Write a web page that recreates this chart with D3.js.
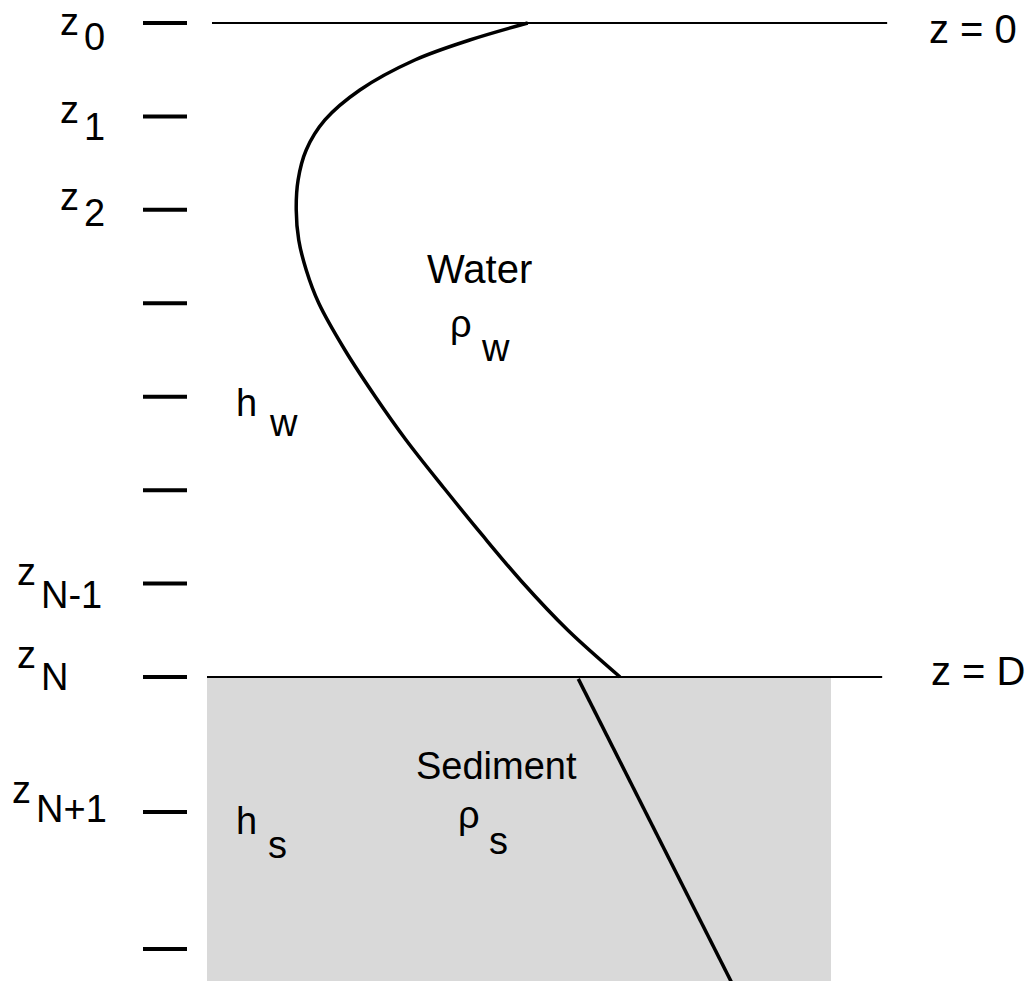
<!DOCTYPE html>
<html><head><meta charset="utf-8">
<script src="https://cdn.jsdelivr.net/npm/d3@7"></script>
<style>
body{margin:0;background:#fff}
text{font-family:"Liberation Sans",Arial,Helvetica,sans-serif;fill:#000}
</style>
</head><body>
<svg id="c" width="1036" height="981"></svg>
<script>
// ---- data ----
// grid levels (depth in water-layer grid units; z = D at 7)
const levelDepths = [0, 1, 2, 3, 4, 5, 6, 7, 8.445, 9.911];
const levelSubs   = ["0", "1", "2", "", "", "", "N-1", "N", "N+1", ""];
// water profile (normalised value vs depth)
const profileDepth = [0, 0.182, 0.396, 0.717, 1.038, 1.359, 1.680, 2.001, 2.322, 2.643, 2.997, 3.500, 3.992, 4.463, 4.988, 5.480, 5.983, 6.497, 7.0];
const profileValue = [0.514, 0.421, 0.333, 0.245, 0.189, 0.159, 0.146, 0.143, 0.147, 0.159, 0.179, 0.221, 0.269, 0.319, 0.381, 0.441, 0.505, 0.578, 0.662];
// sediment profile
const sedDepth = [7.02, 10.3];
const sedValue = [0.595, 0.843];
// interfaces
const surfaceDepth = 0, bottomDepth = 7, sedBottomDepth = 10.3;

// ---- scales ----
const x = d3.scaleLinear().domain([0, 1]).range([207, 831]);
const y = d3.scaleLinear().domain([0, 7]).range([23, 677]);
const svg = d3.select("#c");
svg.append("rect").attr("width", 1036).attr("height", 981).attr("fill", "#fff");

// sediment fill
svg.append("rect")
  .attr("x", x(0)).attr("y", y(bottomDepth))
  .attr("width", x(1) - x(0)).attr("height", y(sedBottomDepth) - y(bottomDepth))
  .attr("fill", "#d9d9d9");

// interface lines
svg.append("line").attr("x1", x(0.008)).attr("x2", x(1.09)).attr("y1", y(surfaceDepth)).attr("y2", y(surfaceDepth))
  .attr("stroke", "#000").attr("stroke-width", 2);
svg.append("line").attr("x1", x(0)).attr("x2", x(1.082)).attr("y1", y(bottomDepth)).attr("y2", y(bottomDepth))
  .attr("stroke", "#000").attr("stroke-width", 2);

// ticks
svg.selectAll("line.tick").data(levelDepths).join("line").attr("class", "tick")
  .attr("x1", 143).attr("x2", 187)
  .attr("y1", d => y(d)).attr("y2", d => y(d))
  .attr("stroke", "#000").attr("stroke-width", 4);

// water profile
const line = d3.line().x(d => x(d[1])).y(d => y(d[0])).curve(d3.curveCatmullRom);
svg.append("path").datum(profileDepth.map((d, i) => [d, profileValue[i]]))
  .attr("d", line).attr("fill", "none").attr("stroke", "#000").attr("stroke-width", 3.5);
svg.append("path").datum(sedDepth.map((d, i) => [d, sedValue[i]]))
  .attr("d", d3.line().x(d => x(d[1])).y(d => y(d[0])))
  .attr("fill", "none").attr("stroke", "#000").attr("stroke-width", 3.5);

// level labels (layout offsets per label)
const fs = 38, fsBig = 40;
const labLayout = [
  {i:0, zx:60, zy:35, sx:84, sy:50},
  {i:1, zx:60, zy:123, sx:84, sy:140},
  {i:2, zx:60, zy:210, sx:84, sy:226},
  {i:6, zx:17, zy:585, sx:41, sy:608},
  {i:7, zx:17, zy:668, sx:41, sy:690},
  {i:8, zx:12, zy:803, sx:36, sy:822}
];
labLayout.forEach(l => {
  svg.append("text").attr("x", l.zx).attr("y", l.zy).attr("font-size", fs).text("z");
  svg.append("text").attr("x", l.sx).attr("y", l.sy).attr("font-size", fs).text(levelSubs[l.i]);
});

function sym(main, sub, mx, my, sx, sy) {
  svg.append("text").attr("x", mx).attr("y", my).attr("font-size", fs).text(main);
  svg.append("text").attr("x", sx).attr("y", sy).attr("font-size", fs).text(sub);
}
svg.append("text").attr("x", 929).attr("y", 43).attr("font-size", fsBig).text("z = 0");
svg.append("text").attr("x", 931).attr("y", 685).attr("font-size", fsBig).text("z = D");
svg.append("text").attr("x", 427).attr("y", 283).attr("font-size", fsBig).text("Water");
sym("ρ", "w", 450, 337, 482, 361);
sym("h", "w", 236, 416, 270, 436);
svg.append("text").attr("x", 416).attr("y", 779).attr("font-size", fs).text("Sediment");
sym("ρ", "s", 458, 828, 489, 854);
sym("h", "s", 236, 834, 268, 858);
</script>
</body></html>
